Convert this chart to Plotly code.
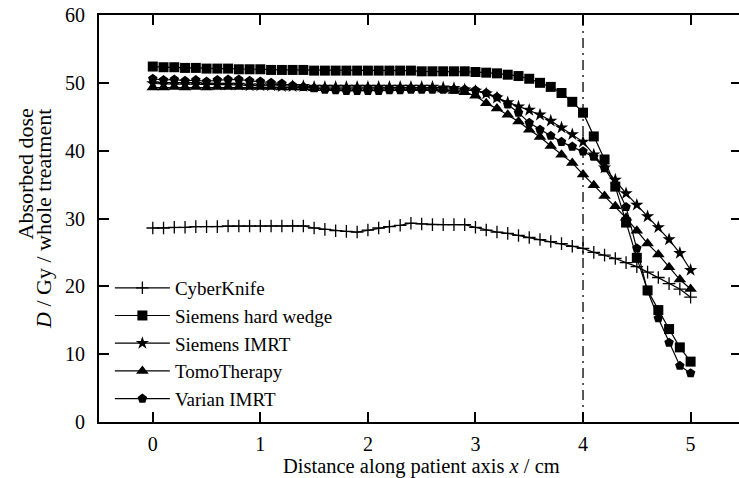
import plotly.graph_objects as go

distance = [round(0.1 * i, 1) for i in range(51)]

cyberknife = [28.6, 28.6, 28.7, 28.7, 28.8, 28.8, 28.8, 28.9, 28.9, 28.9,
              28.9, 28.9, 28.9, 28.9, 28.9, 28.6, 28.4, 28.2, 28.1, 28.0,
              28.3, 28.6, 28.8, 29.0, 29.3, 29.2, 29.1, 29.1, 29.1, 29.1,
              28.7, 28.3, 28.0, 27.8, 27.5, 27.2, 26.9, 26.6, 26.3, 25.9,
              25.6, 25.0, 24.6, 24.1, 23.5, 22.9, 22.1, 21.3, 20.4, 19.6,
              18.4]

siemens_wedge = [52.4, 52.3, 52.3, 52.2, 52.2, 52.1, 52.1, 52.1, 52.0, 52.0,
                 52.0, 51.9, 51.9, 51.9, 51.9, 51.8, 51.8, 51.8, 51.8, 51.8,
                 51.8, 51.8, 51.8, 51.8, 51.8, 51.7, 51.7, 51.7, 51.7, 51.7,
                 51.6, 51.5, 51.4, 51.2, 51.0, 50.6, 50.0, 49.4, 48.5, 47.2,
                 45.6, 42.1, 38.7, 34.7, 29.4, 24.2, 19.4, 16.5, 13.7, 11.0,
                 8.9]

siemens_imrt = [49.9, 49.8, 49.8, 49.8, 49.8, 49.7, 49.7, 49.7, 49.7, 49.6,
                49.6, 49.6, 49.5, 49.5, 49.5, 49.4, 49.4, 49.4, 49.4, 49.4,
                49.4, 49.4, 49.4, 49.4, 49.4, 49.4, 49.4, 49.3, 49.2, 49.0,
                48.8, 48.4, 47.8, 47.1, 46.5, 46.0, 45.3, 44.4, 43.4, 42.4,
                41.3, 39.4, 37.5, 35.7, 33.7, 32.0, 30.3, 28.7, 26.9, 24.9,
                22.4]

tomotherapy = [49.3, 49.3, 49.4, 49.3, 49.4, 49.3, 49.4, 49.4, 49.4, 49.4,
               49.4, 49.4, 49.3, 49.3, 49.3, 49.2, 49.2, 49.2, 49.2, 49.2,
               49.2, 49.2, 49.2, 49.2, 49.2, 49.2, 49.2, 49.0, 48.8, 48.6,
               48.1, 47.0, 46.2, 45.3, 44.3, 43.1, 42.0, 40.7, 39.4, 38.2,
               36.5, 34.9, 33.3, 31.8, 30.1, 28.2, 26.3, 24.7, 22.8, 21.0,
               19.6]

varian_imrt = [50.6, 50.4, 50.5, 50.3, 50.4, 50.2, 50.4, 50.5, 50.5, 50.3,
               50.2, 50.0, 49.9, 49.6, 49.4, 49.2, 49.0, 48.9, 48.8, 48.8,
               48.8, 48.8, 48.9, 48.9, 49.0, 49.0, 49.0, 49.0, 49.0, 49.0,
               48.9, 48.5, 47.9, 46.8, 45.6, 44.1, 43.1, 42.2, 41.3, 40.6,
               39.9, 39.1, 37.4, 35.0, 31.7, 25.6, 19.3, 15.3, 11.7, 8.3,
               7.2]

series_names = ["CyberKnife", "Siemens hard wedge", "Siemens IMRT", "TomoTherapy", "Varian IMRT"]
series_values = [cyberknife, siemens_wedge, siemens_imrt, tomotherapy, varian_imrt]
symbols = ["cross-thin", "square", "star", "triangle-up", "pentagon"]
sizes = [9, 10, 10, 11, 10]

x_ticks = [0, 1, 2, 3, 4, 5]
y_ticks = [0, 10, 20, 30, 40, 50, 60]
marker_line_x = 4

FONT = "Liberation Serif"

fig = go.Figure()

# vertical dash-dot reference line
fig.add_trace(go.Scatter(x=[marker_line_x, marker_line_x], y=[0, 60], mode="lines",
                         line=dict(color="black", width=1.3, dash="10px,5px,2px,5px"),
                         showlegend=False, hoverinfo="skip"))

for name, vals, sym, sz in zip(series_names, series_values, symbols, sizes):
    fig.add_trace(go.Scatter(
        x=distance, y=vals, mode="lines+markers", name=name,
        line=dict(color="black", width=1.2),
        marker=dict(symbol=sym, size=sz, color="black",
                    line=dict(color="black", width=1.3 if sym == "cross-thin" else 0)),
    ))

# invisible trace for right-side ticks
fig.add_trace(go.Scatter(x=[None], y=[None], yaxis="y2", showlegend=False, hoverinfo="skip"))

fig.update_layout(
    width=739, height=478,
    margin=dict(l=99, r=0, t=15, b=56),
    plot_bgcolor="white", paper_bgcolor="white",
    font=dict(family=FONT, size=20, color="black"),
    showlegend=True,
    legend=dict(x=0.017, y=0.01, xanchor="left", yanchor="bottom",
                bgcolor="rgba(0,0,0,0)", font=dict(size=19, family=FONT),
                tracegroupgap=0, itemwidth=55),
    xaxis=dict(range=[-0.5, 5.45], tickvals=x_ticks, ticks="inside", ticklen=10,
               tickwidth=1.5, tickcolor="black", showline=True, linewidth=2,
               linecolor="black", mirror="ticks", showgrid=False, zeroline=False,
               ticklabelstandoff=3, tickfont=dict(size=20, family=FONT)),
    yaxis=dict(range=[0, 60], tickvals=y_ticks, ticks="inside", ticklen=10,
               tickwidth=1.5, tickcolor="black", showline=True, linewidth=2,
               linecolor="black", mirror=False, showgrid=False, zeroline=False,
               ticklabelstandoff=8, tickfont=dict(size=20, family=FONT)),
    yaxis2=dict(range=[0, 60], tickvals=y_ticks, ticks="inside", ticklen=8,
                tickwidth=1.5, tickcolor="black", showline=False, overlaying="y",
                side="right", showticklabels=False, showgrid=False, zeroline=False),
    annotations=[
        dict(text="Distance along patient axis <i>x</i> / cm", xref="paper", yref="paper",
             x=(421 - 99) / 640, y=0, xanchor="center", yanchor="middle",
             yshift=-44.5, showarrow=False, font=dict(size=20.5, family=FONT)),
        dict(text="Absorbed dose", textangle=-90, xref="paper", yref="paper",
             x=0, y=(422 - 107) / 407, xanchor="center", yanchor="top",
             xshift=-74, showarrow=False, font=dict(size=22, family=FONT)),
        dict(text="<i>D</i> / Gy / whole treatment", textangle=-90, xref="paper", yref="paper",
             x=0, y=(422 - 107) / 407, xanchor="center", yanchor="top",
             xshift=-56, showarrow=False, font=dict(size=22, family=FONT)),
    ],
)

fig.write_html("out.html")
